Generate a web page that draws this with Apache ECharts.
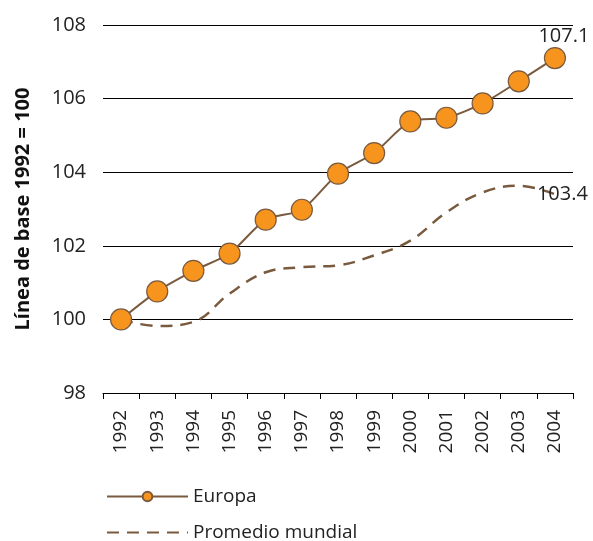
<!DOCTYPE html>
<html><head><meta charset="utf-8">
<script src="https://cdn.jsdelivr.net/npm/echarts@6/dist/echarts.min.js"></script>
<style>html,body{margin:0;padding:0;background:#fff}#c{width:593px;height:541px}</style>
</head><body><div id="c"></div>
<script>
var categories = ['1992','1993','1994','1995','1996','1997','1998','1999','2000','2001','2002','2003','2004'];
var europa = [100, 100.76, 101.32, 101.79, 102.71, 102.98, 103.96, 104.52, 105.38, 105.48, 105.87, 106.47, 107.1];
var mundial = [100, 99.82, 99.93, 100.7, 101.28, 101.42, 101.47, 101.74, 102.14, 102.91, 103.45, 103.63, 103.4];
var yTicks = {min: 98, max: 108, interval: 2};
var yTitle = 'Línea de base 1992 = 100';
var names = ['Europa', 'Promedio mundial'];

var brown = '#7a5a3e';
var font = 'Open Sans';
var chart = echarts.init(document.getElementById('c'));
var last = europa.length - 1;
var legendText = {fontFamily: font, fontSize: 19, color: '#222'};
chart.setOption({
  animation: false,
  grid: {left: 103, right: 20, top: 25, bottom: 148},
  legend: [
    {left: 106, top: 487, padding: 0, itemWidth: 81, itemHeight: 12, itemGap: 6, textStyle: legendText, data: [names[0]]},
    {left: 106, top: 523, padding: 0, itemWidth: 81, itemHeight: 12, itemGap: 6, textStyle: legendText,
     data: [{name: names[1], itemStyle: {opacity: 0}}]}
  ],
  xAxis: {
    type: 'category', data: categories, boundaryGap: true,
    axisLine: {lineStyle: {color: '#000', width: 1}},
    axisTick: {show: true, length: 6, lineStyle: {color: '#000'}},
    axisLabel: {rotate: 90, fontFamily: font, fontSize: 19, color: '#222', margin: 17}
  },
  yAxis: {
    type: 'value', min: yTicks.min, max: yTicks.max, interval: yTicks.interval,
    name: yTitle, nameLocation: 'middle', nameGap: 70, nameRotate: 90,
    nameTextStyle: {fontFamily: font, fontSize: 20, fontWeight: 'bold', color: '#111'},
    axisLine: {show: false}, axisTick: {show: false},
    splitLine: {lineStyle: {color: '#000', width: 1}},
    axisLabel: {fontFamily: font, fontSize: 20, color: '#222', margin: 17}
  },
  series: [
    {
      name: names[0], type: 'line', smooth: 0.25,
      data: europa.map(function(v, i){
        if (i === last) return {value: v, label: {show: true, position: 'top', offset: [9, 4], formatter: '107.1', fontFamily: font, fontSize: 20, color: '#222'}};
        return v;
      }),
      symbol: 'circle', symbolSize: 21,
      itemStyle: {color: '#f7941d', borderColor: '#7a5a3e', borderWidth: 1.2},
      lineStyle: {color: brown, width: 2}
    },
    {
      name: names[1], type: 'line', smooth: 0.4, showSymbol: false, symbol: 'none',
      data: mundial,
      itemStyle: {color: brown},
      lineStyle: {color: brown, width: 2.5, type: [12, 8]},
      endLabel: {show: true, formatter: '103.4', offset: [-26, 0], fontFamily: font, fontSize: 20, color: '#222'}
    }
  ]
});
</script></body></html>
